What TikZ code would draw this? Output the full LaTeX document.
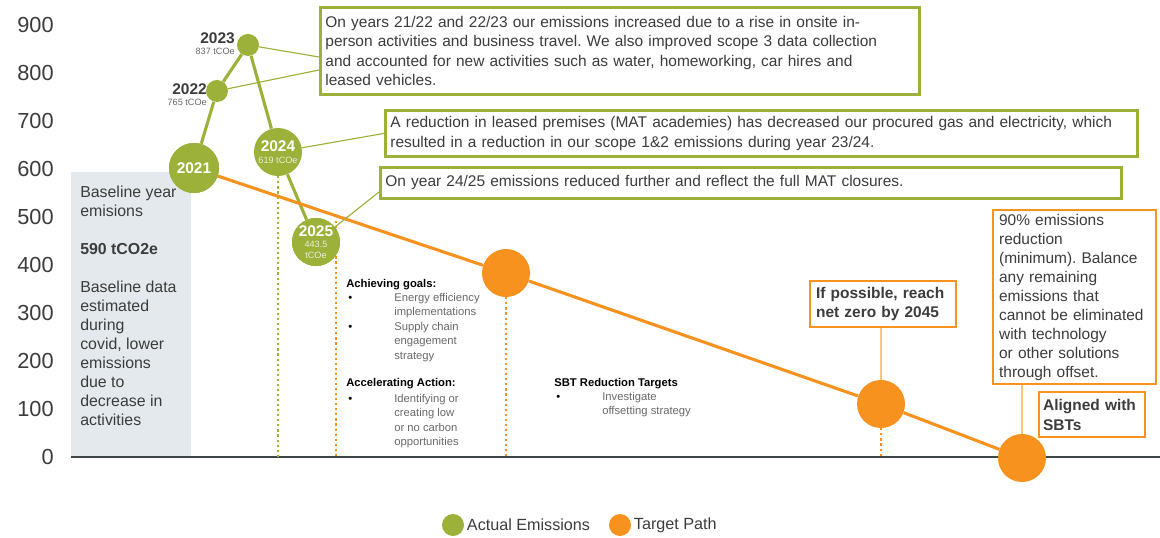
\documentclass[tikz,border=0pt]{standalone}
\usepackage{fontspec}
\setmainfont{Liberation Sans}
\usepackage{tikz}
\usetikzlibrary{positioning}
\frenchspacing
\definecolor{emgreen}{RGB}{155,177,58}
\definecolor{emorange}{RGB}{247,146,30}
\definecolor{emlightorange}{RGB}{250,196,130}
\definecolor{emtext}{RGB}{60,60,60}
\definecolor{emgrey}{RGB}{105,105,105}
\definecolor{embase}{RGB}{227,233,236}
\definecolor{emaxis}{RGB}{62,70,74}
\newcommand{\smallval}{\mdseries\fontsize{6.5}{7}\selectfont\color{white!80!emgreen}}
\tikzstyle{actual} = [circle, fill=emgreen, inner sep=0pt, text=white, align=center, font=\bfseries\fontsize{11}{11}\selectfont]
\tikzstyle{target} = [circle, fill=emorange, inner sep=0pt, minimum size=1.2cm]
\tikzstyle{greenbox} = [rectangle, draw=emgreen, line width=2pt, fill=white, align=left, text=emtext, anchor=north west, inner xsep=0.125cm, inner ysep=0pt, font=\fontsize{11}{13.9}\selectfont]
\tikzstyle{orangebox} = [rectangle, draw=emorange, line width=1.6pt, fill=white, align=left, text=emtext, anchor=north west, inner xsep=0.15cm, inner ysep=0pt, font=\fontsize{11}{13.5}\selectfont]
\tikzstyle{actualline} = [emgreen, line width=2.2pt]
\tikzstyle{targetline} = [emorange, line width=2.2pt]
\tikzstyle{actuallink} = [emgreen, line width=0.8pt]
\tikzstyle{targetlink} = [emlightorange, line width=0.8pt]
\tikzstyle{drop} = [line width=1.5pt, dash pattern=on 1.5pt off 2.1pt]
\tikzstyle{scalelbl} = [inner sep=0pt, text=emtext, font=\fontsize{15.5}{16}\selectfont]
\tikzstyle{yearlbl} = [inner sep=0pt, text=emtext, font=\bfseries\fontsize{11}{11}\selectfont]
\tikzstyle{yearsub} = [inner sep=0pt, text=emgrey, font=\fontsize{6.5}{7}\selectfont]
\tikzstyle{goalhead} = [inner sep=0pt, anchor=west, text=black, font=\bfseries\fontsize{8}{10.3}\selectfont]
\tikzstyle{goalitem} = [inner sep=0pt, anchor=north west, align=left, text=emgrey, font=\fontsize{8}{10.3}\selectfont]
\tikzstyle{legendtext} = [inner sep=0pt, text=emtext, font=\fontsize{11.5}{13}\selectfont]

\begin{document}
\begin{tikzpicture}[x=0.025cm, y=-0.025cm]
\useasboundingbox (0,0) rectangle (1160,538);

% Baseline year panel
\fill[embase] (71,172) rectangle (191,457);
\node[inner sep=0pt, anchor=north west, align=left, text=emtext, font=\fontsize{11.3}{13.5}\selectfont] (basenote) at (80,186)
  {Baseline year\\emisions\\[13.5pt]\textbf{590 tCO2e}\\[13.5pt]Baseline data\\estimated\\during\\covid, lower\\emissions\\due to\\decrease in\\activities};

% Axis and scale
\coordinate (axisleft) at (71,457);
\coordinate (axisright) at (1160,457);
\draw[emaxis, line width=1.5pt] (axisleft) -- (axisright);
\foreach \v in {0,100,...,900}
  \node[scalelbl, anchor=east] (scale\v) at (54,{457-0.48*\v}) {\v};

% Actual emissions
\node[actual, minimum size=1.25cm] (c2021) at (194,168) {2021};
\node[actual, minimum size=0.55cm] (c2022) at (217,91) {};
\node[actual, minimum size=0.55cm] (c2023) at (248,45) {};
\node[actual, minimum size=1.2cm] (c2024) at (278,152) {2024\\[-2pt]{\smallval 619 tCOe}};
\node[actual, minimum size=1.2cm] (c2025) at (316,242) {2025\\[-3pt]{\smallval 443.5}\\[-3pt]{\smallval tCOe}};
\node[yearlbl, anchor=east] (l2023) at (235,38) {2023};
\node[yearsub, anchor=east] (s2023) at (235,51) {837 tCOe};
\node[yearlbl, anchor=east] (l2022) at (207,89) {2022};
\node[yearsub, anchor=east] (s2022) at (207,102) {765 tCOe};

% Target path
\node[target] (t2030) at (506,273) {};
\node[target] (t2045) at (881,404) {};
\node[target] (t2050) at (1022,458) {};
\coordinate (tp2025) at (336,221);

% Drop lines to the axis
\draw[drop, emgreen] (c2024.south) -- (c2024.south |- axisleft);
\draw[drop, emorange] (tp2025) -- (tp2025 |- axisleft);
\draw[drop, emorange] (t2030.south) -- (t2030.south |- axisleft);
\draw[drop, emorange] (t2045.south) -- (t2045.south |- axisleft);

\draw[actualline] (c2021) -- (c2022) -- (c2023) -- (c2024) -- (c2025);
\draw[targetline] (c2021.center) -- (t2030) -- (t2045) -- (t2050);
\node[actual, minimum size=1.25cm] at (c2021) {2021};
\node[actual, minimum size=1.2cm] at (c2025) {2025\\[-3pt]{\smallval 443.5}\\[-3pt]{\smallval tCOe}};

% Notes
\node[greenbox, text width=14.72cm, minimum height=2.175cm] (note2223) at (319,6)
  {On years 21/22 and 22/23 our emissions increased due to a rise in onsite in-\\person activities and business travel. We also improved scope 3 data collection\\and accounted for new activities such as water, homeworking, car hires and\\leased vehicles.};
\node[greenbox, text width=18.55cm, minimum height=1.15cm] (note2324) at (384,109)
  {A reduction in leased premises (MAT academies) has decreased our procured gas and electricity, which\\resulted in a reduction in our scope 1\&2 emissions during year 23/24.};
\node[greenbox, text width=18.27cm, minimum height=0.775cm] (note2425) at (379,166)
  {On year 24/25 emissions reduced further and reflect the full MAT closures.};
\coordinate (note2223a) at (319,57);
\coordinate (note2223b) at (319,70);
\coordinate (note2425a) at (379,192);
\draw[actuallink] (c2023) -- (note2223a);
\draw[actuallink] (c2022) -- (note2223b);
\draw[actuallink] (c2024) -- (note2324.west);
\draw[actuallink] (c2025) -- (note2425a);

\node[orangebox, text width=3.35cm, minimum height=1.15cm, font=\bfseries\fontsize{11}{14}\selectfont] (netzero) at (809,280)
  {If possible, reach\\net zero by 2045};
\node[orangebox, text width=3.77cm, minimum height=4.35cm] (offset) at (992,209)
  {90\% emissions\\reduction\\(minimum). Balance\\any remaining\\emissions that\\cannot be eliminated\\with technology\\or other solutions\\through offset.};
\node[orangebox, text width=2.45cm, minimum height=1.125cm, inner xsep=0.1cm, font=\bfseries\fontsize{11}{14}\selectfont] (sbts) at (1038,391)
  {Aligned with\\SBTs};
\draw[targetlink] (t2045.north) -- (t2045.north |- netzero.south);
\draw[targetlink] (t2050.north) -- (t2050.north |- offset.south);

% Actions
\node[goalhead] (achieve) at (346,285) {Achieving goals:};
\node[goalitem] (achieve1) at (394,293) {Energy efficiency\\implementations};
\node[goalitem] (achieve2) at (394,322) {Supply chain\\engagement\\strategy};
\node[goalhead] (accel) at (346,384) {Accelerating Action:};
\node[goalitem] (accel1) at (394,394) {Identifying or\\creating low\\or no carbon\\opportunities};
\node[goalhead] (sbt) at (554,384) {SBT Reduction Targets};
\node[goalitem] (sbt1) at (602,392) {Investigate\\offsetting strategy};
\node[goalitem, anchor=west, text=black] (bullet1) at (348,299) {•};
\node[goalitem, anchor=west, text=black] (bullet2) at (348,328) {•};
\node[goalitem, anchor=west, text=black] (bullet3) at (348,400) {•};
\node[goalitem, anchor=west, text=black] (bullet4) at (556,398) {•};

% Legend
\node[circle, fill=emgreen, inner sep=0pt, minimum size=0.55cm] (legactual) at (453,525) {};
\node[legendtext, right=0.06cm of legactual] (legactualtxt) {Actual Emissions};
\node[circle, fill=emorange, inner sep=0pt, minimum size=0.55cm] (legtarget) at (620,525) {};
\node[legendtext, right=0.06cm of legtarget] (legtargettxt) {Target Path};
\end{tikzpicture}
\end{document}
